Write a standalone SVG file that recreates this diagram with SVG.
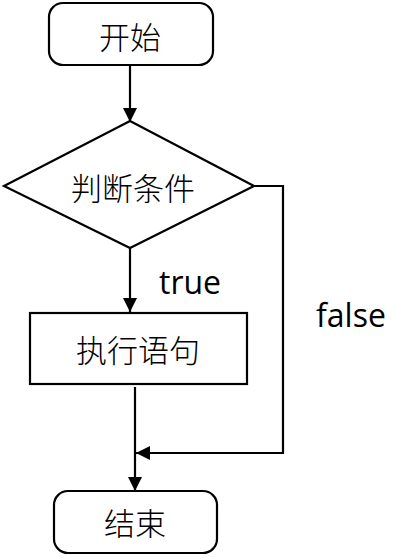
<svg xmlns="http://www.w3.org/2000/svg" width="412" height="558" viewBox="0 0 412 558">
<style>
.shape{fill:#fff;stroke:#000;stroke-width:2.2}
.cn{font-family:"Noto Sans CJK SC","Noto Sans",sans-serif;font-size:31px;font-weight:300;fill:#000;text-anchor:middle;dominant-baseline:central}
.lbl{font-family:"Open Sans","Noto Sans",sans-serif;font-size:32px;fill:#000}
.line{fill:none;stroke:#000;stroke-width:2.2}
</style>
<defs>
<marker id="arr" markerWidth="14" markerHeight="14" viewBox="0 0 14 14" refX="14" refY="7" orient="auto" markerUnits="userSpaceOnUse">
<path d="M0,0 L14,7 L0,14 z" fill="#000"/>
</marker>
</defs>
<g id="connectors">
<line class="line" x1="130" y1="65" x2="130" y2="122" marker-end="url(#arr)"/>
<line class="line" x1="130" y1="248" x2="130" y2="312" marker-end="url(#arr)"/>
<line class="line" x1="135" y1="387" x2="135" y2="491" marker-end="url(#arr)"/>
<polyline class="line" points="254,186 283,186 283,453 136,453" marker-end="url(#arr)"/>
<text class="lbl" x="159" y="294">true</text>
<text class="lbl" x="316" y="327">false</text>
</g>
<g id="start">
<rect class="shape" x="49" y="3" width="164" height="62" rx="14"/>
<text class="cn" x="130" y="35">开始</text>
</g>
<g id="cond">
<polygon class="shape" points="130,121 254,186 130,248 4,186"/>
<text class="cn" x="133" y="186">判断条件</text>
</g>
<g id="exec">
<rect class="shape" x="30" y="313" width="217" height="71"/>
<text class="cn" x="138" y="348">执行语句</text>
</g>
<g id="end">
<rect class="shape" x="54" y="491" width="163" height="62" rx="14"/>
<text class="cn" x="135" y="521">结束</text>
</g>
</svg>
